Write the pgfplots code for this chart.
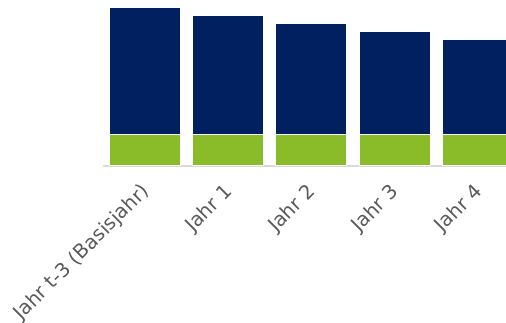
\documentclass[border=0pt]{standalone}
\usepackage{pgfplots}
\pgfplotsset{compat=1.18}
\usepackage{fontspec}
\setmainfont{DejaVu Sans}
\definecolor{dblue}{HTML}{002060}
\definecolor{lgreen}{HTML}{8ABB28}
\definecolor{axgray}{HTML}{D9D9D9}
\definecolor{txtgray}{HTML}{595959}
\begin{document}
\begin{tikzpicture}[x=1pt,y=1pt]
\path[use as bounding box] (0,0) rectangle (506,322);
\begin{axis}[
  at={(124.2,156.5)}, anchor=south west,
  scale only axis,
  width=416pt, height=160pt,
  xmin=-0.5, xmax=4.5, ymin=0, ymax=160,
  ybar stacked, bar width=71pt,
  axis y line=none,
  axis x line*=bottom,
  x axis line style={draw=axgray, line width=2pt, -},
  xtick=data,
  xticklabels={Jahr t-3 (Basisjahr), Jahr 1, Jahr 2, Jahr 3, Jahr 4},
  xtick style={draw=none},
  xticklabel style={xshift=1.5pt, yshift=-23pt, rotate=45, anchor=east, font=\fontsize{19.5}{23}\selectfont, text=txtgray, inner sep=0pt},
  clip=false,
]
\addplot[fill=lgreen, draw=white, line width=1pt] coordinates {(0,31) (1,31) (2,31) (3,31) (4,31)};
\addplot[fill=dblue, draw=white, line width=1pt] coordinates {(0,127) (1,119) (2,111) (3,103) (4,95)};
\end{axis}
\end{tikzpicture}
\end{document}
